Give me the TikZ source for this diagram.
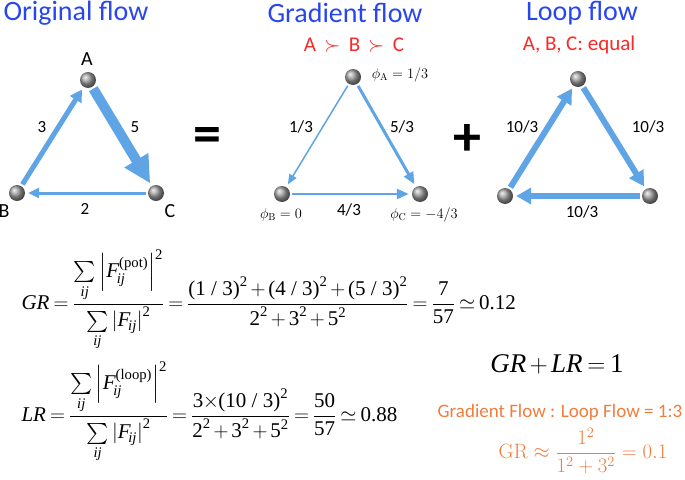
\documentclass[tikz,border=0pt]{standalone}
\usepackage{amsmath,amssymb}
\usepackage[no-math]{fontspec}
\setmainfont{Carlito}
\newfontfamily\tms{Liberation Serif}
\newcommand{\tmr}[1]{\text{\tms\upshape #1}}
\newcommand{\tmi}[1]{\text{\tms\itshape #1}}
\newcommand{\tightmath}{\medmuskip=2.5mu\relax\thickmuskip=3.5mu\relax}
\usetikzlibrary{arrows.meta,shadings}
\definecolor{flowblue}{RGB}{95,165,230}
\definecolor{titleblue}{RGB}{40,70,240}
\definecolor{hired}{RGB}{250,40,40}
\definecolor{orng}{RGB}{240,125,60}
\tikzset{
  ball/.style={circle,minimum size=16pt,inner sep=0pt,ball color=gray!75!white},
  title/.style={font=\fontsize{28}{32}\selectfont,text=titleblue},
  sub/.style={font=\fontsize{21}{24}\selectfont,text=hired},
  elab/.style={font=\fontsize{17}{20}\selectfont},
  vlab/.style={font=\fontsize{20}{22}\selectfont},
  plab/.style={font=\fontsize{14}{16}\selectfont},
  flow/.style={draw=flowblue,shorten <=2pt,shorten >=3pt},
  big/.style={font=\fontsize{56}{60}\selectfont\bfseries},
  formula/.style={font=\fontsize{21}{25}\selectfont,anchor=west}
}
\begin{document}
\begin{tikzpicture}[x=1pt,y=-1pt]
\useasboundingbox (0,0) rectangle (685,479);
% titles
\node[title] (t1) at (76,13) {Original flow};
\node[title] (t2) at (345,13) {Gradient flow};
\node[title] (t3) at (582,13) {Loop flow};
\node[sub] (s2) at (354,45) {A\, $\succ$\, B\, $\succ$\, C};
\node[sub] (s3) at (579,45) {A, B, C: equal};
% original
\node[ball] (oA) at (88,80) {};
\node[ball] (oB) at (17,193) {};
\node[ball] (oC) at (156,193) {};
\draw[flow,line width=5pt,-{Triangle[length=12pt,width=13pt]}] (oB) -- (oA);
\draw[flow,line width=10pt,-{Triangle[length=27pt,width=26pt]}] (oA) -- (oC);
\draw[flow,line width=3pt,-{Triangle[length=11pt,width=10pt]}] (oC) -- (oB);
\node[vlab] (lA) at (87,59) {A};
\node[vlab] (lB) at (4,211) {B};
\node[vlab] (lC) at (170,211) {C};
\node[elab] (e3) at (42,127) {3};
\node[elab] (e5) at (135,127) {5};
\node[elab] (e2) at (85,209) {2};
\node[big] (eq) at (207,140) {=};
% gradient
\node[ball] (gA) at (353,77) {};
\node[ball] (gB) at (282,194) {};
\node[ball] (gC) at (420,194) {};
\draw[flow,line width=1.5pt,-{Triangle[length=10pt,width=8pt]}] (gA) -- (gB);
\draw[flow,line width=3pt,-{Triangle[length=12pt,width=10pt]}] (gA) -- (gC);
\draw[flow,line width=2.5pt,-{Triangle[length=12pt,width=10pt]}] (gB) -- (gC);
\node[elab] (g13) at (301,127) {1/3};
\node[elab] (g53) at (402,127) {5/3};
\node[elab] (g43) at (349,210) {4/3};
\node[plab] (pA) at (400,75) {$\phi_{\mathrm{A}}=1/3$};
\node[plab] (pB) at (281,215) {$\phi_{\mathrm{B}}=0$};
\node[plab] (pC) at (424,215) {$\phi_{\mathrm{C}}=-4/3$};
\node[big] (plus) at (467,140) {+};
% loop
\node[ball] (lpA) at (578,79) {};
\node[ball] (lpB) at (505,196) {};
\node[ball] (lpC) at (650,196) {};
\draw[flow,line width=6pt,-{Triangle[length=15pt,width=16pt]}] (lpB) -- (lpA);
\draw[flow,line width=6pt,-{Triangle[length=15pt,width=16pt]}] (lpA) -- (lpC);
\draw[flow,line width=6pt,-{Triangle[length=15pt,width=16pt]}] (lpC) -- (lpB);
\node[elab] (l1) at (522,127) {10/3};
\node[elab] (l2) at (648,127) {10/3};
\node[elab] (l3) at (582,212) {10/3};
% formulas
\node[formula] (gr) at (18,300) {$\tightmath\displaystyle \tmi{GR}=\frac{\sum\limits_{\tmi{ij}}\left|\tmi{F}_{\!\tmi{ij}}^{\tmr{(pot)}}\right|^{\tmr{2}}}{\sum\limits_{\tmi{ij}}\left|\tmi{F}_{\!\tmi{ij}}\right|^{\tmr{2}}}
 =\frac{\tmr{(1 / 3)}^{\tmr{2}}+\tmr{(4 / 3)}^{\tmr{2}}+\tmr{(5 / 3)}^{\tmr{2}}}{\tmr{2}^{\tmr{2}}+\tmr{3}^{\tmr{2}}+\tmr{5}^{\tmr{2}}}=\frac{\tmr{7}}{\tmr{57}}\simeq\tmr{0.12}$};
\node[formula] (lr) at (18,412) {$\tightmath\displaystyle \tmi{LR}=\frac{\sum\limits_{\tmi{ij}}\left|\tmi{F}_{\!\tmi{ij}}^{\tmr{(loop)}}\right|^{\tmr{2}}}{\sum\limits_{\tmi{ij}}\left|\tmi{F}_{\!\tmi{ij}}\right|^{\tmr{2}}}
 =\frac{\tmr{3}\!\times\!\tmr{(10 / 3)}^{\tmr{2}}}{\tmr{2}^{\tmr{2}}+\tmr{3}^{\tmr{2}}+\tmr{5}^{\tmr{2}}}=\frac{\tmr{50}}{\tmr{57}}\simeq\tmr{0.88}$};
\node[font=\fontsize{27}{31}\selectfont] (sum) at (557,364) {$\tightmath\tmi{GR}+\tmi{LR}=\tmr{1}$};
\node[font=\fontsize{19}{22}\selectfont,text=orng] (ratio) at (560,412) {Gradient Flow : Loop Flow = 1:3};
\node[font=\fontsize{20}{23}\selectfont,text=orng] (approx) at (583,451) {$\mathrm{GR}\approx\dfrac{1^2}{1^2+3^2}=0.1$};
\end{tikzpicture}
\end{document}
